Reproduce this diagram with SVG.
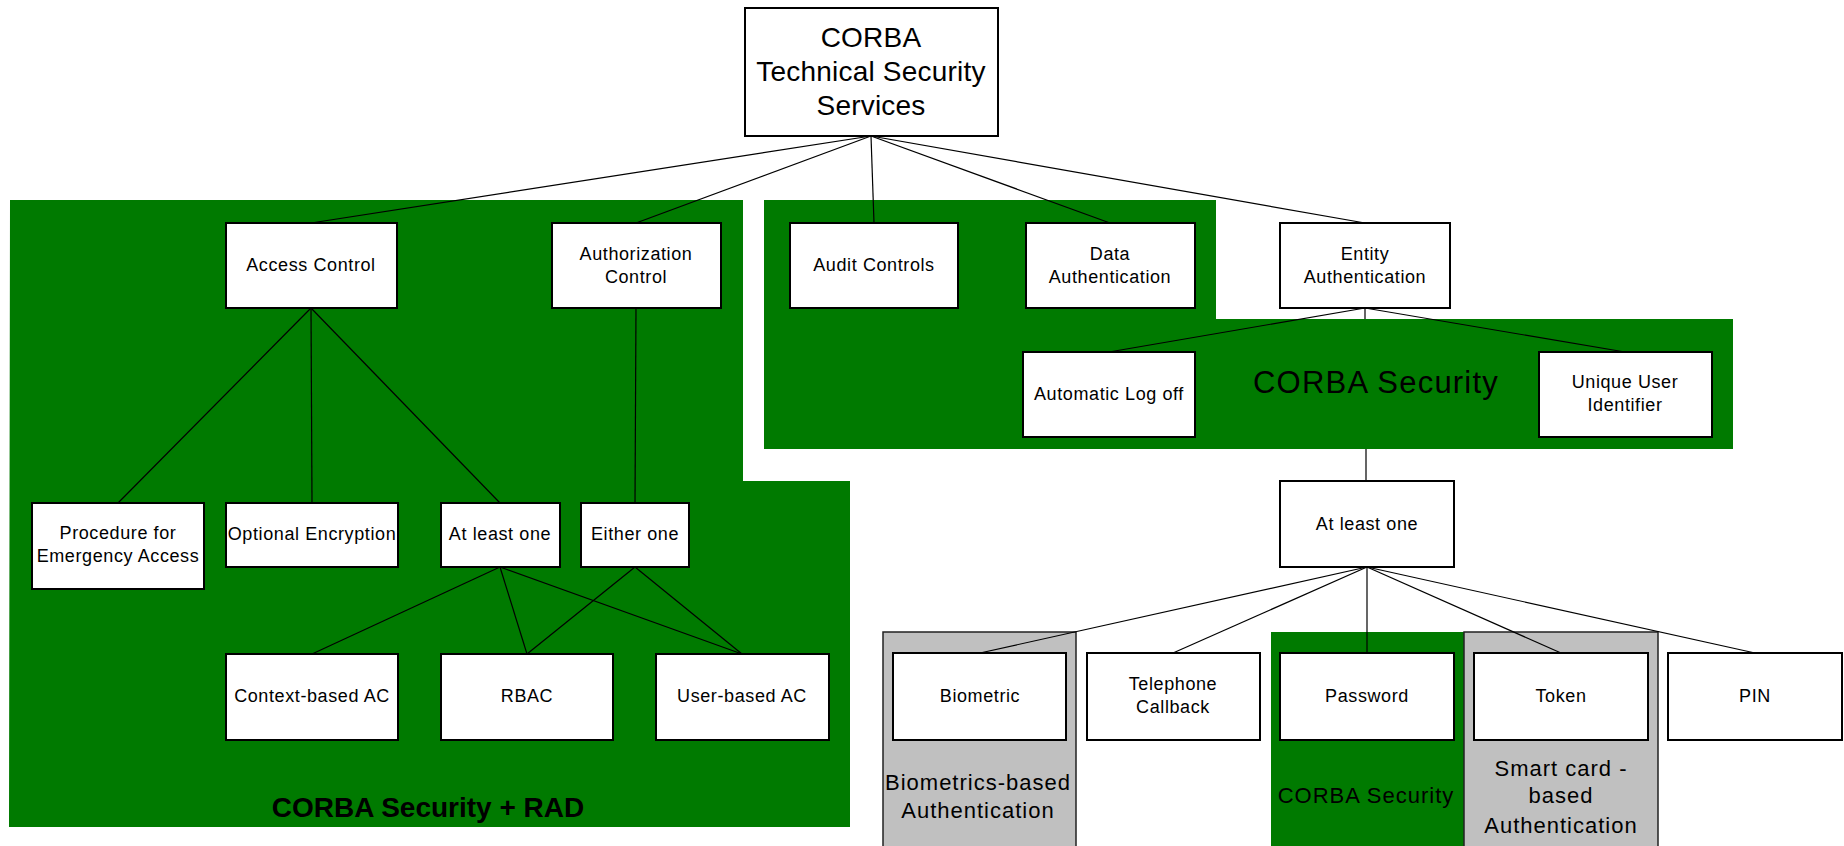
<svg xmlns="http://www.w3.org/2000/svg" width="1844" height="846" viewBox="0 0 1844 846">
  <style>
    .zone { fill: #007A00; stroke: none; }
    .grey { fill: #C0C0C0; stroke: #222; stroke-width: 1.5; }
    .box { fill: #fff; stroke: #000; stroke-width: 2; }
    .lbl { font-family: "Liberation Sans", Arial, sans-serif; font-size: 18px; letter-spacing: 0.6px; fill: #000; text-anchor: middle; }
    .title { font-size: 28px; letter-spacing: 0.2px; }
    .zlbl { font-family: "Liberation Sans", Arial, sans-serif; font-size: 22px; letter-spacing: 1px; fill: #000; text-anchor: middle; }
    .big { font-size: 31px; letter-spacing: 1.2px; }
    .bold { font-weight: bold; font-size: 28px; letter-spacing: 0; }
    .conn { fill: none; stroke: #000; stroke-width: 1.2; }
  </style>

  <rect width="1844" height="846" fill="#fff"/>

  <!-- grouping zones -->
  <g id="zones">
    <polygon class="zone" points="10,200 743,200 743,481 850,481 850,827 9,827"/>
    <polygon class="zone" points="764,200 1216,200 1216,319 1733,319 1733,449 764,449"/>
    <rect class="grey" x="883" y="632" width="193" height="220"/>
    <rect class="zone" x="1271" y="632" width="193" height="220"/>
    <rect class="grey" x="1464" y="632" width="194" height="220"/>
  </g>

  <!-- connectors -->
  <g id="connectors" class="conn">
    <line x1="871" y1="136" x2="311" y2="223"/>
    <line x1="871" y1="136" x2="636" y2="223"/>
    <line x1="871" y1="136" x2="874" y2="223"/>
    <line x1="871" y1="136" x2="1110" y2="223"/>
    <line x1="871" y1="136" x2="1365" y2="223"/>
    <line x1="311" y1="308" x2="118" y2="503"/>
    <line x1="311" y1="308" x2="312" y2="503"/>
    <line x1="311" y1="308" x2="500" y2="503"/>
    <line x1="636" y1="308" x2="635" y2="503"/>
    <line x1="500" y1="567" x2="312" y2="654"/>
    <line x1="500" y1="567" x2="527" y2="654"/>
    <line x1="500" y1="567" x2="742" y2="654"/>
    <line x1="635" y1="567" x2="527" y2="654"/>
    <line x1="635" y1="567" x2="742" y2="654"/>
    <line x1="1365" y1="308" x2="1109" y2="352"/>
    <line x1="1365" y1="308" x2="1625" y2="352"/>
    <path d="M1365,308 V319 M1366,449 V481"/>
    <line x1="1367" y1="567" x2="980" y2="653"/>
    <line x1="1367" y1="567" x2="1173" y2="653"/>
    <line x1="1367" y1="567" x2="1367" y2="653"/>
    <line x1="1367" y1="567" x2="1561" y2="653"/>
    <line x1="1367" y1="567" x2="1755" y2="653"/>
  </g>

  <!-- nodes -->
  <g id="n-root">
    <rect class="box" x="745" y="8" width="253" height="128"/>
    <text class="lbl title" x="871" y="47">CORBA</text>
    <text class="lbl title" x="871" y="81">Technical Security</text>
    <text class="lbl title" x="871" y="115">Services</text>
  </g>
  <g id="n-access">
    <rect class="box" x="226" y="223" width="171" height="85"/>
    <text class="lbl" x="311" y="271">Access Control</text>
  </g>
  <g id="n-authz">
    <rect class="box" x="552" y="223" width="169" height="85"/>
    <text class="lbl" x="636" y="260">Authorization</text>
    <text class="lbl" x="636" y="283">Control</text>
  </g>
  <g id="n-audit">
    <rect class="box" x="790" y="223" width="168" height="85"/>
    <text class="lbl" x="874" y="271">Audit Controls</text>
  </g>
  <g id="n-data">
    <rect class="box" x="1026" y="223" width="169" height="85"/>
    <text class="lbl" x="1110" y="260">Data</text>
    <text class="lbl" x="1110" y="283">Authentication</text>
  </g>
  <g id="n-entity">
    <rect class="box" x="1280" y="223" width="170" height="85"/>
    <text class="lbl" x="1365" y="260">Entity</text>
    <text class="lbl" x="1365" y="283">Authentication</text>
  </g>
  <g id="n-logoff">
    <rect class="box" x="1023" y="352" width="172" height="85"/>
    <text class="lbl" x="1109" y="400">Automatic Log off</text>
  </g>
  <g id="n-uid">
    <rect class="box" x="1539" y="352" width="173" height="85"/>
    <text class="lbl" x="1625" y="388">Unique User</text>
    <text class="lbl" x="1625" y="411">Identifier</text>
  </g>
  <g id="n-emergency">
    <rect class="box" x="32" y="503" width="172" height="86"/>
    <text class="lbl" x="118" y="539">Procedure for</text>
    <text class="lbl" x="118" y="562">Emergency Access</text>
  </g>
  <g id="n-encryption">
    <rect class="box" x="226" y="503" width="172" height="64"/>
    <text class="lbl" x="312" y="540">Optional Encryption</text>
  </g>
  <g id="n-atleast-ac">
    <rect class="box" x="441" y="503" width="119" height="64"/>
    <text class="lbl" x="500" y="540">At least one</text>
  </g>
  <g id="n-either">
    <rect class="box" x="581" y="503" width="108" height="64"/>
    <text class="lbl" x="635" y="540">Either one</text>
  </g>
  <g id="n-context">
    <rect class="box" x="226" y="654" width="172" height="86"/>
    <text class="lbl" x="312" y="702">Context-based AC</text>
  </g>
  <g id="n-rbac">
    <rect class="box" x="441" y="654" width="172" height="86"/>
    <text class="lbl" x="527" y="702">RBAC</text>
  </g>
  <g id="n-userac">
    <rect class="box" x="656" y="654" width="173" height="86"/>
    <text class="lbl" x="742" y="702">User-based AC</text>
  </g>
  <g id="n-atleast-auth">
    <rect class="box" x="1280" y="481" width="174" height="86"/>
    <text class="lbl" x="1367" y="530">At least one</text>
  </g>
  <g id="n-biometric">
    <rect class="box" x="893" y="653" width="173" height="87"/>
    <text class="lbl" x="980" y="702">Biometric</text>
  </g>
  <g id="n-callback">
    <rect class="box" x="1087" y="653" width="173" height="87"/>
    <text class="lbl" x="1173" y="690">Telephone</text>
    <text class="lbl" x="1173" y="713">Callback</text>
  </g>
  <g id="n-password">
    <rect class="box" x="1280" y="653" width="174" height="87"/>
    <text class="lbl" x="1367" y="702">Password</text>
  </g>
  <g id="n-token">
    <rect class="box" x="1474" y="653" width="174" height="87"/>
    <text class="lbl" x="1561" y="702">Token</text>
  </g>
  <g id="n-pin">
    <rect class="box" x="1668" y="653" width="174" height="87"/>
    <text class="lbl" x="1755" y="702">PIN</text>
  </g>

  <!-- zone captions -->
  <g id="zone-labels">
    <text class="zlbl bold" x="428" y="817">CORBA Security + RAD</text>
    <text class="zlbl big" x="1376" y="393">CORBA Security</text>
    <text class="zlbl" x="978" y="790">Biometrics-based</text>
    <text class="zlbl" x="978" y="818">Authentication</text>
    <text class="zlbl" x="1366" y="803">CORBA Security</text>
    <text class="zlbl" x="1561" y="776">Smart card -</text>
    <text class="zlbl" x="1561" y="803">based</text>
    <text class="zlbl" x="1561" y="833">Authentication</text>
  </g>
</svg>
